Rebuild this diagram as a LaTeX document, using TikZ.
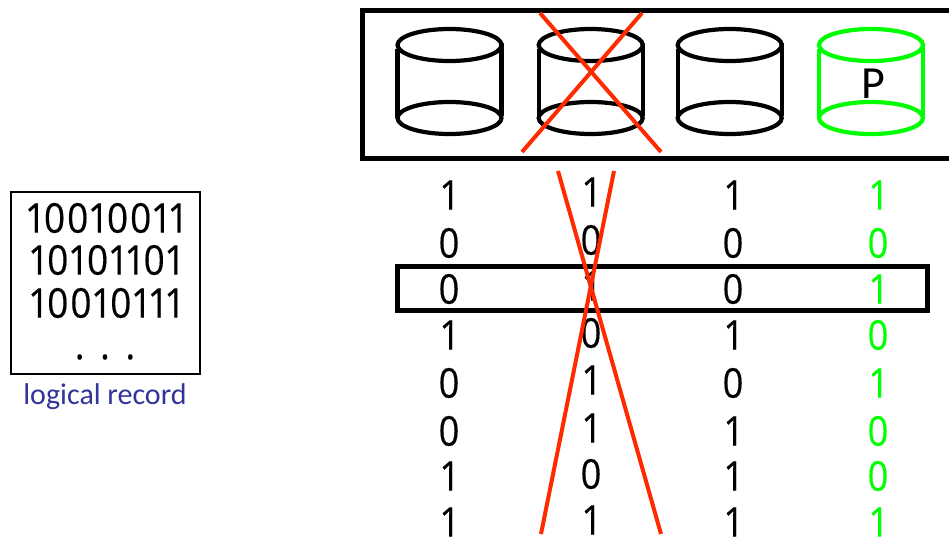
\documentclass[tikz,border=0pt]{standalone}
\usepackage{fontspec}
\setmainfont{Carlito}[Numbers={Proportional,Lining}]
\newfontfamily\bitfont{Open Sans}[Numbers={Proportional,Lining}, FakeStretch=0.88, FakeBold=0.35]
\newfontfamily\recordfont{Open Sans}[Numbers={Proportional,Lining}, FakeStretch=0.9, FakeBold=0.35, LetterSpace=5]
\usetikzlibrary{shapes.geometric}
\definecolor{crossred}{HTML}{FF2A00}
\definecolor{parity}{HTML}{00FF00}
\definecolor{recordblue}{HTML}{33339A}

\begin{document}
\begin{tikzpicture}[
	x=0.5pt, y=-0.5pt,
	% Define a style for the boxes and the disks
	frame/.style={draw=black, line width=2.5pt},
	disk/.style={ellipse, draw=black, line width=2.1pt, minimum width=52pt, minimum height=16pt, inner sep=0pt, outer sep=0pt},
	side/.style={draw=black, line width=2.1pt},
	paritydisk/.style={disk, draw=parity},
	parityside/.style={side, draw=parity},
	bit/.style={font=\bitfont\fontsize{20.5}{20.5}\selectfont, inner sep=0pt},
	paritybit/.style={bit, text=parity},
	recordline/.style={font=\recordfont\fontsize{20.5}{20.5}\selectfont, inner sep=0pt},
	cross/.style={draw=crossred, line width=2pt}
	]
	\useasboundingbox (0,0) rectangle (949,542);

	% Logical record on the left
	\node[draw=black, line width=1.25pt, minimum width=94.5pt, minimum height=91pt, inner sep=0pt] (record) at (105.5,283) {};
	\node[recordline] (line1) at (106,218) {10010011};
	\node[recordline] (line2) at (106,260) {10101101};
	\node[recordline] (line3) at (106,303) {10010111};
	\node[recordline] (line4) at (105,357) {. . .};
	\node[text=recordblue, font=\fontsize{15}{15}\selectfont, inner sep=0pt] (recordname) at (105,397) {logical record};

	% Disk array
	\draw[frame] (949,10) -| (362,158) -- (949,158);

	\node[disk] (top1) at (449.5,45) {};
	\node[disk] (bot1) at (449.5,118) {};
	\draw[side] ([yshift=-2pt]top1.west) -- (bot1.west);
	\draw[side] ([yshift=1pt]top1.east) -- ([yshift=1pt]bot1.east);

	\node[disk] (top2) at (590.7,45) {};
	\node[disk] (bot2) at (590.7,118) {};
	\draw[side] ([yshift=-2pt]top2.west) -- (bot2.west);
	\draw[side] ([yshift=1pt]top2.east) -- ([yshift=1pt]bot2.east);

	\node[disk] (top3) at (729.7,45) {};
	\node[disk] (bot3) at (729.7,118) {};
	\draw[side] ([yshift=-2pt]top3.west) -- (bot3.west);
	\draw[side] ([yshift=1pt]top3.east) -- ([yshift=1pt]bot3.east);

	\node[font=\fontsize{23}{23}\selectfont, inner sep=0pt] (plabel) at (873.5,84) {P};
	\node[paritydisk] (top4) at (871,45) {};
	\node[paritydisk] (bot4) at (871,118) {};
	\draw[parityside] ([yshift=-2pt]top4.west) -- (bot4.west);
	\draw[parityside] ([yshift=1pt]top4.east) -- ([yshift=1pt]bot4.east);

	% Highlighted row
	\node[frame, minimum width=265pt, minimum height=22pt, inner sep=0pt] (row) at (662.5,288) {};

	% First column
	\node[bit] (a1) at (449,195) {1};
	\node[bit] (a2) at (449,243) {0};
	\node[bit] (a3) at (449,289) {0};
	\node[bit] (a4) at (449,335) {1};
	\node[bit] (a5) at (449,383) {0};
	\node[bit] (a6) at (449,431) {0};
	\node[bit] (a7) at (449,476) {1};
	\node[bit] (a8) at (449,522) {1};

	% Second column
	\node[bit] (b1) at (591,192) {1};
	\node[bit] (b2) at (591,240) {0};
	\node[bit] (b3) at (591,286) {1};
	\node[bit] (b4) at (591,333) {0};
	\node[bit] (b5) at (591,380) {1};
	\node[bit] (b6) at (591,428) {1};
	\node[bit] (b7) at (591,474) {0};
	\node[bit] (b8) at (591,520) {1};

	% Third column
	\node[bit] (c1) at (733,195) {1};
	\node[bit] (c2) at (733,243) {0};
	\node[bit] (c3) at (733,289) {0};
	\node[bit] (c4) at (733,335) {1};
	\node[bit] (c5) at (733,383) {0};
	\node[bit] (c6) at (733,431) {1};
	\node[bit] (c7) at (733,476) {1};
	\node[bit] (c8) at (733,522) {1};

	% Parity column
	\node[paritybit] (p1) at (878,195) {1};
	\node[paritybit] (p2) at (878,243) {0};
	\node[paritybit] (p3) at (878,289) {1};
	\node[paritybit] (p4) at (878,335) {0};
	\node[paritybit] (p5) at (878,383) {1};
	\node[paritybit] (p6) at (878,431) {0};
	\node[paritybit] (p7) at (878,476) {0};
	\node[paritybit] (p8) at (878,522) {1};

	% Crosses over the failed disk
	\coordinate (xa) at (540,13);
	\coordinate (xb) at (661,152);
	\coordinate (xc) at (642,13);
	\coordinate (xd) at (522,152);
	\draw[cross] (xa) -- (xb);
	\draw[cross] (xc) -- (xd);
	\coordinate (ya) at (558,171);
	\coordinate (yb) at (661,534);
	\coordinate (yc) at (614,171);
	\coordinate (yd) at (541,534);
	\draw[cross] (ya) -- (yb);
	\draw[cross] (yc) -- (yd);
\end{tikzpicture}
\end{document}
